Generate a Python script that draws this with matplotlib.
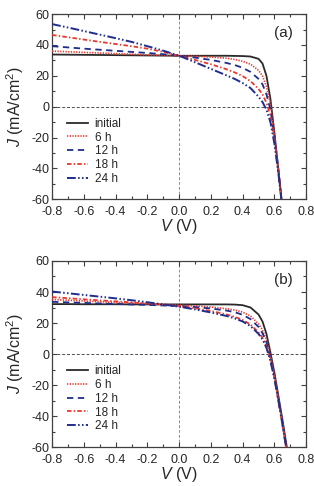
#!/usr/bin/env python3

import matplotlib
matplotlib.use('Agg')
import matplotlib.pyplot as plt
from matplotlib.ticker import MultipleLocator

plt.rcParams['font.family'] = ['Liberation Sans', 'DejaVu Sans']
plt.rcParams['mathtext.fontset'] = 'custom'
plt.rcParams['mathtext.rm'] = 'Liberation Sans'
plt.rcParams['mathtext.it'] = 'Liberation Sans:italic'

# voltage grid (V)
V = [-0.8, -0.7, -0.6, -0.5, -0.4, -0.3, -0.2, -0.1, 0.0, 0.1, 0.2, 0.3,
     0.35, 0.4, 0.45, 0.5, 0.525, 0.55, 0.575, 0.6, 0.625, 0.65, 0.675, 0.7]

labels = ['initial', '6 h', '12 h', '18 h', '24 h']
xticks = [-0.8, -0.6, -0.4, -0.2, 0.0, 0.2, 0.4, 0.6, 0.8]
xticklabels = ['-0.8', '-0.6', '-0.4', '-0.2', '0.0', '0.2', '0.4', '0.6', '0.8']
yticks = [-60, -40, -20, 0, 20, 40, 60]
yticklabels = ['-60', '-40', '-20', '0', '20', '40', '60']

# panel (a), J in mA/cm2
a_initial = [33.8, 33.7, 33.6, 33.5, 33.4, 33.3, 33.2, 33.1, 33.0, 33.0, 33.0, 33.0,
             32.9, 32.8, 32.5, 31.0, 28.0, 20.0, 5.0, -17.0, -41.0, -65.0, -89.0, -113.0]
a_6h = [36.0, 35.6, 35.2, 34.8, 34.4, 34.0, 33.6, 33.3, 33.0, 32.7, 32.2, 31.4,
        30.6, 29.4, 27.5, 23.5, 20.0, 13.0, 2.0, -17.0, -40.0, -64.0, -88.0, -112.0]
a_12h = [39.2, 38.4, 37.6, 36.9, 36.2, 35.5, 34.8, 34.0, 33.0, 31.8, 30.3, 28.3,
         27.0, 25.2, 22.5, 18.0, 14.5, 8.0, -2.0, -19.0, -41.0, -65.0, -89.0, -113.0]
a_18h = [46.5, 45.0, 43.5, 42.0, 40.6, 39.2, 37.6, 35.5, 33.0, 30.3, 27.5, 24.2,
         22.2, 19.8, 16.5, 11.5, 8.0, 2.5, -6.0, -21.0, -42.0, -65.0, -89.0, -113.0]
a_24h = [53.5, 51.3, 49.0, 46.7, 44.4, 42.0, 39.2, 36.3, 33.0, 28.8, 24.5, 20.2,
         18.0, 15.3, 12.0, 6.5, 3.0, -2.0, -10.0, -24.0, -43.0, -66.0, -90.0, -114.0]

# panel (b)
b_initial = [32.2, 32.2, 32.1, 32.1, 32.1, 32.0, 32.0, 32.0, 32.0, 32.0, 32.0, 32.0,
             31.9, 31.5, 30.0, 25.5, 21.0, 13.0, 1.0, -12.0, -27.0, -42.0, -58.0, -74.0]
b_6h = [35.2, 34.7, 34.2, 33.7, 33.3, 32.9, 32.5, 32.0, 31.5, 31.0, 30.3, 29.2,
        28.4, 27.0, 24.5, 19.5, 15.5, 9.0, -1.0, -13.0, -28.0, -43.0, -59.0, -75.0]
b_12h = [33.7, 33.3, 33.0, 32.6, 32.3, 32.0, 31.7, 31.3, 30.9, 30.3, 29.4, 28.0,
         27.0, 25.3, 22.5, 17.5, 13.5, 7.5, -2.0, -14.0, -29.0, -44.0, -60.0, -76.0]
b_18h = [36.7, 36.0, 35.3, 34.6, 34.0, 33.3, 32.6, 31.8, 30.8, 29.5, 27.8, 25.5,
         24.0, 22.0, 19.0, 14.0, 10.5, 5.0, -3.5, -15.0, -30.0, -45.0, -61.0, -77.0]
b_24h = [40.3, 39.2, 38.1, 37.0, 35.9, 34.7, 33.4, 32.0, 30.5, 28.8, 26.8, 24.5,
         23.0, 21.0, 18.0, 13.0, 9.5, 4.0, -4.5, -16.0, -30.0, -45.0, -61.0, -77.0]

RED = '#e8392e'
BLUE = '#1f2d8c'
STYLES = [
    dict(color='#2a2a2a', linestyle='-', lw=1.3),
    dict(color=RED, linestyle=(0, (0.8, 0.8)), lw=1.2),
    dict(color=BLUE, linestyle=(0, (3.5, 2.5)), lw=1.3),
    dict(color=RED, linestyle=(0, (2.5, 1.2, 0.8, 1.2)), lw=1.3),
    dict(color=BLUE, linestyle=(0, (4.5, 1.2, 0.8, 1.2, 0.8, 1.2)), lw=1.4),
]


def plot_panel(ax, series, tag):
    ax.axhline(0, color='0.3', lw=0.7, linestyle=(0, (3, 2)), zorder=1)
    ax.axvline(0, color='0.55', lw=0.7, linestyle=(0, (3, 2)), zorder=1)
    for J, lab, st in zip(series, labels, STYLES):
        ax.plot(V, J, label=lab, zorder=3, **st)
    ax.set_xlim(-0.8, 0.8)
    ax.set_ylim(-60, 60)
    ax.set_xticks(xticks)
    ax.set_xticklabels(xticklabels)
    ax.set_yticks(yticks)
    ax.set_yticklabels(yticklabels)
    ax.xaxis.set_minor_locator(MultipleLocator(0.1))
    ax.yaxis.set_minor_locator(MultipleLocator(10))
    ax.tick_params(which='both', direction='in', top=True, right=True,
                   labelsize=9, width=0.8, colors='0.25', labelcolor='0.15')
    ax.tick_params(which='major', length=3.5)
    ax.tick_params(which='minor', length=2)
    ax.tick_params(axis='x', pad=5)
    ax.tick_params(axis='y', pad=2)
    for s in ax.spines.values():
        s.set_linewidth(0.9)
        s.set_color('0.25')
    ax.set_xlabel(r'$V$ (V)', fontsize=11.5, labelpad=-1, color='0.15')
    ax.set_ylabel(r'$J$ (mA/cm$^2$)', fontsize=11.5, labelpad=4, color='0.15')
    ax.text(0.91, 0.9, tag, transform=ax.transAxes, ha='center', va='center',
            fontsize=11, color='0.15')
    leg = ax.legend(loc='upper left', bbox_to_anchor=(0.06, 0.44), frameon=False,
                    fontsize=8.5, handlelength=1.75, labelspacing=0.15,
                    handletextpad=0.55, borderaxespad=0, borderpad=0)
    for t in leg.get_texts():
        t.set_color('0.15')


fig = plt.figure(figsize=(3.14, 4.86), dpi=100)
ax_a = fig.add_axes([0.166, 0.590, 0.809, 0.381])
ax_b = fig.add_axes([0.166, 0.080, 0.809, 0.383])

plot_panel(ax_a, [a_initial, a_6h, a_12h, a_18h, a_24h], '(a)')
plot_panel(ax_b, [b_initial, b_6h, b_12h, b_18h, b_24h], '(b)')

fig.savefig('out.png', dpi=100)
